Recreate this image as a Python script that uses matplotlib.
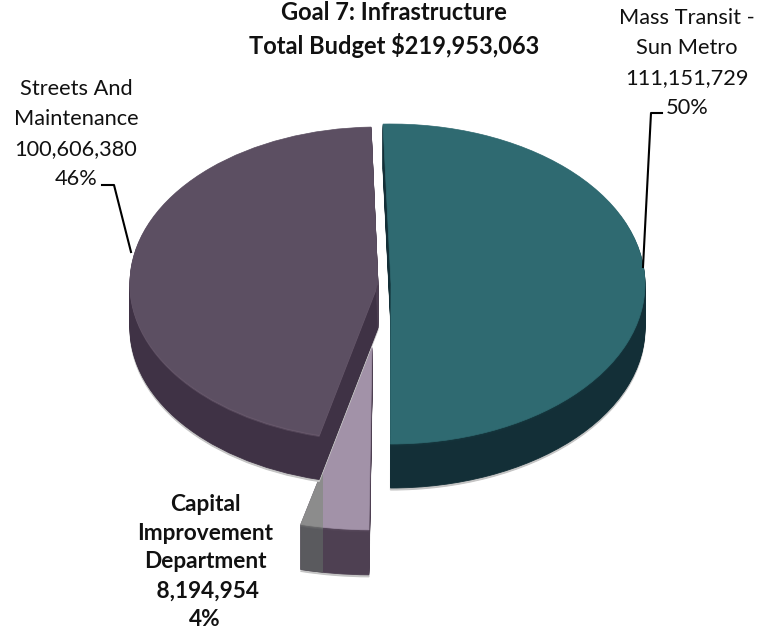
import numpy as np
import matplotlib
matplotlib.use("Agg")
import matplotlib.pyplot as plt
from matplotlib.patches import Wedge, Polygon, Rectangle
from matplotlib.transforms import Affine2D
from matplotlib.colors import to_rgb

plt.rcParams['font.family'] = ['Lato', 'DejaVu Sans']

title_lines = ["Goal 7: Infrastructure", "Total Budget $219,953,063"]
departments = ["Mass Transit -\nSun Metro", "Streets And\nMaintenance", "Capital\nImprovement\nDepartment"]
budgets = [111151729, 100606380, 8194954]
percent_labels = ["50%", "46%", "4%"]

total = sum(budgets)
sweeps = [360 * v / total for v in budgets]

fig = plt.figure(figsize=(7.65, 6.31), dpi=100)
ax = fig.add_axes([0, 0, 1, 1])
ax.set_xlim(0, 765)
ax.set_ylim(631, 0)
ax.axis('off')


def shade(a, b, t):
    a, b = np.array(to_rgb(a)), np.array(to_rgb(b))
    return tuple(a + (b - a) * t)


def slab(cx, cy, rx, ry, start, sweep, clockwise, depth, top, rim, side, cut=None,
         clip=None, z=1, shadow=True):
    """Extruded slice: stacked layers for the wall, then the top surface."""
    t1, t2 = (start - sweep, start) if clockwise else (start, start + sweep)
    def tr(dy):
        return Affine2D().scale(rx, -ry).translate(cx, cy + dy) + ax.transData
    patches = []
    if shadow:
        w = Wedge((0, 0), 1, t1, t2, transform=tr(depth + 2), fc="#c4c4c4", ec="#c4c4c4",
                  lw=0.8, zorder=z)
        ax.add_patch(w)
        patches.append(w)
    for d in range(depth, 0, -1):
        col = shade(side, rim, max(0, 1 - d / 3))
        w = Wedge((0, 0), 1, t1, t2, transform=tr(d), fc=col, ec=col, lw=0.6, zorder=z)
        ax.add_patch(w)
        patches.append(w)
    if cut is not None:
        a = np.radians(t1)
        x = cx + rx * np.cos(a)
        y = cy - ry * np.sin(a)
        p = Polygon([(cx, cy), (x, y), (x, y + depth), (cx, cy + depth)], closed=True,
                    fc=cut, ec=cut, lw=0.5, zorder=z)
        ax.add_patch(p)
        patches.append(p)
    w = Wedge((0, 0), 1, t1, t2, transform=tr(0), fc=top, ec=top, lw=0.5, zorder=z)
    ax.add_patch(w)
    patches.append(w)
    if clip is not None:
        for p in patches:
            p.set_clip_path(clip)
    return patches


# capital improvement (exploded, behind the others)
slab(372, 347, 256 * 1.15, 159 * 1.15, 269.4, sweeps[2], True, 45,
     "#a292a8", "#5a4b5e", "#4e4052", z=1)
band = Rectangle((290, 300), 33, 300, transform=ax.transData)
slab(372, 347, 256 * 1.15, 159 * 1.15, 269.4, sweeps[2], True, 45,
     "#8c8c8c", "#707072", "#5a5a5e", clip=band, z=1.5, shadow=False)

# mass transit
slab(391, 284, 254, 160, 91.8, sweeps[0], True, 44,
     "#2f6a71", "#16383f", "#132f37", z=2)

# streets and maintenance
slab(378, 283, 248, 156, 91.6, sweeps[1], False, 45,
     "#5c4f62", "#7d6d80", "#3f3245", cut="#4d3f52", z=3)

# leader lines
ax.plot([662, 651, 643], [113, 113, 267], color="black", lw=1.5, zorder=5)
ax.plot([102, 114, 131], [185, 185, 252], color="black", lw=1.5, zorder=5)

txt = "#111111"
ax.text(394, 12, title_lines[0], ha='center', va='center', fontsize=17, fontweight='bold', color=txt)
ax.text(394, 46, title_lines[1], ha='center', va='center', fontsize=17, fontweight='bold', color=txt)

fs = 15.7
ax.text(687, 63, f"{departments[0]}\n{budgets[0]:,}\n{percent_labels[0]}", ha='center', va='center',
        fontsize=fs, color=txt, linespacing=1.64)
ax.text(76, 134, f"{departments[1]}\n{budgets[1]:,}\n{percent_labels[1]}", ha='center', va='center',
        fontsize=fs, color=txt, linespacing=1.64)
ax.text(205, 562, f"{departments[2]}\n {budgets[2]:,}\n{percent_labels[2]}", ha='center', va='center',
        fontsize=16.3, fontweight='bold', color=txt, linespacing=1.46)

fig.savefig("out.png", dpi=100)
